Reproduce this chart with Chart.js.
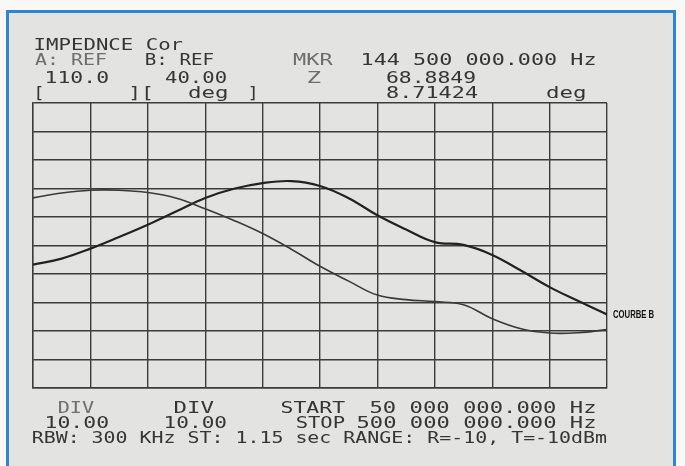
<!DOCTYPE html>
<html>
<head>
<meta charset="utf-8">
<script src="https://cdn.jsdelivr.net/npm/chart.js@4/dist/chart.umd.min.js"></script>
<style>
  html, body { margin: 0; padding: 0; background: #f8f8f6; }
  canvas { display: block; }
</style>
</head>
<body>
<canvas id="chart" width="685" height="466"></canvas>
<script>
// Sweep points, MHz (start 50 MHz, stop 500 MHz, 45 MHz / div)
const freqMHz = [50, 72.5, 95, 117.5, 140, 162.5, 185, 207.5, 230, 252.5, 275,
  297.5, 320, 342.5, 365, 387.5, 410, 432.5, 455, 477.5, 500];
// Trace A : |Z| in ohms (REF 110.0 at top, 10 / div)
const impedanceOhm = [76.7, 78.4, 79.4, 79.4, 78.6, 76.6, 72.9, 68.8, 64.2, 58.7, 52.7,
  47.5, 42.6, 41.0, 40.3, 39.2, 34.3, 30.8, 29.3, 29.4, 30.5];
// Trace B : phase in degrees (REF 40.00 at top, 10 / div)
const phaseDeg = [-16.7, -14.6, -11.1, -7.0, -2.7, 2.0, 6.7, 9.9, 11.9, 12.6, 10.9,
  6.6, 0.6, -4.4, -8.8, -9.8, -13.3, -18.8, -24.6, -29.5, -34.2];

// Analyzer screen annotations: [text, inkLeft, inkRight, baseline, faded]
const headerLines = [
  ['IMPEDNCE Cor', 35, 183, 50, false],
  ['A: REF', 35, 107, 65, true],
  ['B: REF', 146, 214, 65, false],
  ['MKR', 293, 334, 65, true],
  ['144 500 000.000 Hz', 362, 595, 65, false],
  ['110.0', 46, 109, 83, false],
  ['40.00', 165, 227, 83, false],
  ['Z', 308, 321, 83, true],
  ['68.8849', 386, 476, 83, false],
  ['[', 37, 42, 98, false],
  ['][', 131, 151, 98, false],
  ['deg', 188, 227, 98, false],
  [']', 250, 255, 98, false],
  ['8.71424', 386, 478, 98, false],
  ['deg', 546, 585, 98, false],
];
const footerLines = [
  ['DIV', 59, 94, 413, true],
  ['DIV', 175, 214, 413, false],
  ['START', 282, 345, 413, false],
  ['50 000 000.000 Hz', 371, 595, 413, false],
  ['10.00', 46, 109, 428, false],
  ['10.00', 165, 227, 428, false],
  ['STOP', 297, 345, 428, false],
  ['500 000 000.000 Hz', 358, 595, 428, false],
  ['RBW: 300 KHz ST: 1.15 sec RANGE: R=-10, T=-10dBm', 33, 607, 443, false],
];

const INK = '#353535';
const SCREEN_FONT = '15px "DejaVu Sans Mono", "Liberation Mono", monospace';

// stretch a string horizontally so its ink spans x0..x1
function fitText(ctx, str, x0, x1, base, color, font) {
  ctx.save();
  ctx.font = font;
  const m = ctx.measureText(str);
  const ink = m.actualBoundingBoxLeft + m.actualBoundingBoxRight;
  const sx = Math.max(0.5, (x1 - x0) / ink);
  ctx.translate(x0 + m.actualBoundingBoxLeft * sx, base);
  ctx.scale(sx, 1);
  ctx.fillStyle = color;
  ctx.textBaseline = 'alphabetic';
  ctx.fillText(str, 0, 0);
  ctx.restore();
}

const screenFrame = {
  id: 'screenFrame',
  beforeDraw(chart) {
    const ctx = chart.ctx;
    ctx.save();
    ctx.fillStyle = '#f8f8f6';
    ctx.fillRect(0, 0, chart.width, chart.height);
    ctx.fillStyle = '#e3e3e1';
    ctx.fillRect(7.5, 11.5, 667, 470);
    ctx.strokeStyle = '#2f86cf';
    ctx.lineWidth = 3;
    ctx.strokeRect(7.5, 11.5, 667, 470);
    ctx.restore();
  },
  afterDraw(chart) {
    const ctx = chart.ctx;
    for (const [t, x0, x1, y, faded] of headerLines.concat(footerLines)) {
      fitText(ctx, t, x0, x1, y, faded ? '#6e6e6e' : INK, SCREEN_FONT);
    }
    // trace label next to the end of curve B
    const xs = chart.scales.x, yb = chart.scales.yB;
    const endY = yb.getPixelForValue(phaseDeg[phaseDeg.length - 1]);
    fitText(ctx, 'COURBE B', xs.right + 6, xs.right + 47, endY + 4, '#111111',
      'bold 10px "Liberation Sans Narrow", "Liberation Sans", sans-serif');
  }
};

const ctx = document.getElementById('chart');
new Chart(ctx, {
  type: 'line',
  data: {
    datasets: [
      {
        label: 'A',
        data: freqMHz.map((f, i) => ({ x: f, y: impedanceOhm[i] })),
        yAxisID: 'yA',
        borderColor: '#3a3a3a',
        borderWidth: 1.6,
        pointRadius: 0,
        tension: 0.4
      },
      {
        label: 'B',
        data: freqMHz.map((f, i) => ({ x: f, y: phaseDeg[i] })),
        yAxisID: 'yB',
        borderColor: '#222222',
        borderWidth: 2.2,
        pointRadius: 0,
        tension: 0.4
      }
    ]
  },
  options: {
    responsive: false,
    animation: false,
    devicePixelRatio: 1,
    layout: { padding: { left: 33, top: 103, right: 78, bottom: 78 } },
    plugins: {
      legend: { display: false },
      tooltip: { enabled: false }
    },
    scales: {
      x: {
        type: 'linear',
        min: 50,
        max: 500,
        ticks: { display: false, stepSize: 45 },
        grid: { color: '#3c3c3c', lineWidth: 1.4, drawTicks: false },
        border: { color: '#3c3c3c', width: 1.4 }
      },
      yA: {
        type: 'linear',
        position: 'left',
        min: 10,
        max: 110,
        ticks: { display: false, stepSize: 10 },
        grid: { color: '#3c3c3c', lineWidth: 1.4, drawTicks: false },
        border: { color: '#3c3c3c', width: 1.4 }
      },
      yB: {
        type: 'linear',
        display: false,
        min: -60,
        max: 40
      }
    }
  },
  plugins: [screenFrame]
});
</script>
</body>
</html>
